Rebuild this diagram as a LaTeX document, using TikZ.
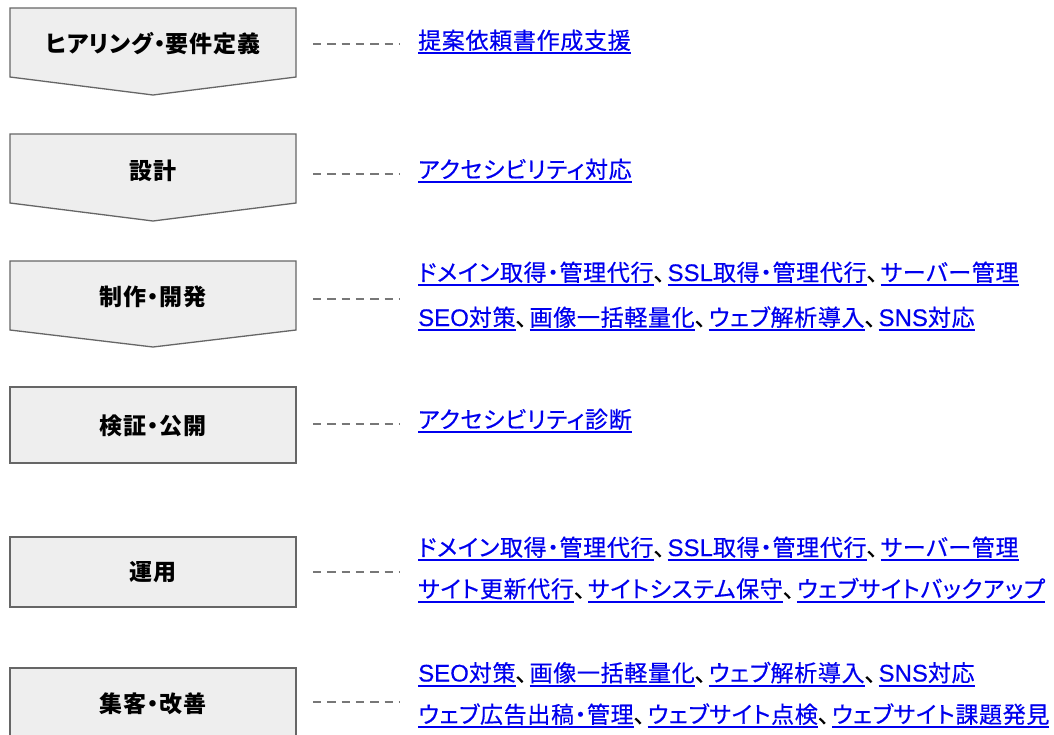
\documentclass[tikz,border=0pt]{standalone}
\usepackage{fontspec}
\newfontfamily\jp[RawFeature=+palt,LetterSpace=3,FakeBold=0.4]{Noto Sans CJK JP}
\newfontfamily\jpb[RawFeature=+palt,LetterSpace=3]{Noto Sans CJK JP}
\newfontfamily\latfont[FakeBold=0.4]{Liberation Sans}
\newcommand\lat[1]{{\fontsize{24}{28}\selectfont\latfont #1}}
\definecolor{boxfill}{HTML}{EEEEEE}
\definecolor{boxline}{HTML}{666666}
\definecolor{dashgray}{HTML}{777777}
\definecolor{linkblue}{HTML}{0000EE}
\newsavebox\lkbox
\newcommand\lk[1]{\sbox\lkbox{\color{linkblue}#1}\rlap{\color{linkblue}\rule[-5pt]{\wd\lkbox}{2pt}}\usebox\lkbox}
\newcommand\cm{{\color{black}、}\kern2.5pt}
\begin{document}
\begin{tikzpicture}[x=1pt,y=-1pt,
  stage/.style={draw=boxline,fill=boxfill,line width=1.3pt,line join=miter},
  stagelabel/.style={font=\fontsize{23}{27}\selectfont\jpb\bfseries,inner sep=0,anchor=center},
  linktext/.style={font=\fontsize{23}{27}\selectfont\jp,inner sep=0,anchor=base west},
  leader/.style={draw=dashgray,line width=1.5pt,dash pattern=on 8.3pt off 6pt}]
\useasboundingbox (0,0) rectangle (1054,734);
\fill[white] (0,0) rectangle (1054,734);
\clip (0,0) rectangle (1054,734);
% stages
\path[stage] (10,8) -- (296,8) -- (296,77) -- (153,95) -- (10,77) -- cycle;
\path[stage] (10,134) -- (296,134) -- (296,203) -- (153,221) -- (10,203) -- cycle;
\path[stage] (10,261) -- (296,261) -- (296,330) -- (153,347) -- (10,330) -- cycle;
\path[stage] (10,387) rectangle (296,463);
\path[stage] (10,537) rectangle (296,607);
\path[stage] (10,668) rectangle (296,760);
% labels
\node[stagelabel] (s1) at (153,43.5) {ヒアリング・要件定義};
\node[stagelabel] (s2) at (153,171) {設計};
\node[stagelabel] (s3) at (153,297) {制作・開発};
\node[stagelabel] (s4) at (153,426) {検証・公開};
\node[stagelabel] (s5) at (153,572.5) {運用};
\node[stagelabel] (s6) at (153,704) {集客・改善};
% leaders
\foreach \n/\yy in {1/44,2/174,3/299,4/424,5/572,6/702}{
  \coordinate (a\n) at (313,\yy);
  \coordinate (b\n) at (400,\yy);
  \draw[leader] (a\n) -- (b\n);
}
% links
\node[linktext] (t1) at (418,49) {\lk{提案依頼書作成支援}};
\node[linktext] (t2) at (418,178) {\lk{アクセシビリティ対応}};
\node[linktext] (t3a) at (418,281) {\lk{ドメイン取得・管理代行}\cm\lk{\lat{SSL}取得・管理代行}\cm\lk{サーバー管理}};
\node[linktext] (t3b) at (418,326) {\lk{\lat{SEO}対策}\cm\lk{画像一括軽量化}\cm\lk{ウェブ解析導入}\cm\lk{\lat{SNS}対応}};
\node[linktext] (t4) at (418,428) {\lk{アクセシビリティ診断}};
\node[linktext] (t5a) at (418,556) {\lk{ドメイン取得・管理代行}\cm\lk{\lat{SSL}取得・管理代行}\cm\lk{サーバー管理}};
\node[linktext] (t5b) at (418,597.5) {\lk{サイト更新代行}\cm\lk{サイトシステム保守}\cm\lk{ウェブサイトバックアップ}};
\node[linktext] (t6a) at (418,681.5) {\lk{\lat{SEO}対策}\cm\lk{画像一括軽量化}\cm\lk{ウェブ解析導入}\cm\lk{\lat{SNS}対応}};
\node[linktext] (t6b) at (418,723) {\lk{ウェブ広告出稿・管理}\cm\lk{ウェブサイト点検}\cm\lk{ウェブサイト課題発見}};
\end{tikzpicture}
\end{document}
